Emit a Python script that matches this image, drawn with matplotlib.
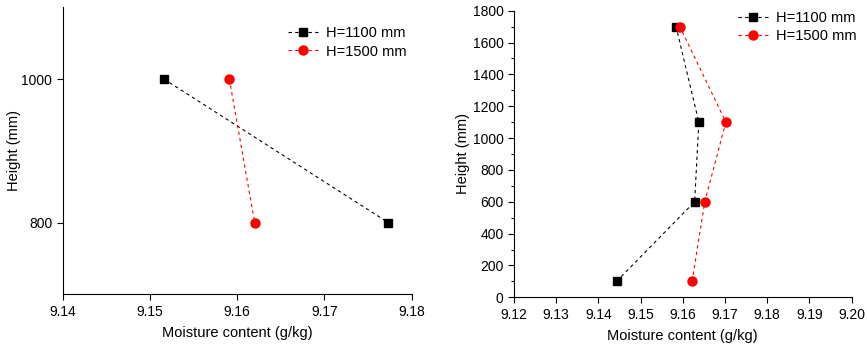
import matplotlib
matplotlib.use('Agg')
import matplotlib.pyplot as plt
from matplotlib.ticker import MultipleLocator, FormatStrFormatter

plt.rcParams['font.family'] = ['Liberation Sans', 'DejaVu Sans']
plt.rcParams['font.size'] = 10.5

# Left panel data
left_h1100_x = [9.1516, 9.1773]
left_h1100_y = [1000, 800]
left_h1500_x = [9.1591, 9.1620]
left_h1500_y = [1000, 800]

# Right panel data
right_h1100_x = [9.1443, 9.1628, 9.1638, 9.1584]
right_h1100_y = [100, 600, 1100, 1700]
right_h1500_x = [9.1622, 9.1652, 9.1702, 9.1593]
right_h1500_y = [100, 600, 1100, 1700]

labels = ['H=1100 mm', 'H=1500 mm']

fig = plt.figure(figsize=(8.67, 3.46), dpi=100)
ax1 = fig.add_axes([0.0723, 0.1494, 0.4026, 0.8296])
ax2 = fig.add_axes([0.5928, 0.1408, 0.3895, 0.8283])


def draw(ax, x1, y1, x2, y2, anchor, ypad):
    ax.plot(x1, y1, ls=(0, (3, 3)), lw=0.8, color='black', marker='s',
            markersize=5.5, label=labels[0])
    ax.plot(x2, y2, ls=(0, (3, 3)), lw=0.8, color='red', marker='o',
            markersize=6.5, label=labels[1])
    for s in ['top', 'right']:
        ax.spines[s].set_visible(False)
    ax.tick_params(direction='out', length=4, width=0.8, labelsize=10)
    ax.tick_params(which='minor', direction='out', length=2, width=0.8)
    ax.set_xlabel('Moisture content (g/kg)', labelpad=5)
    ax.set_ylabel('Height (mm)', labelpad=ypad)
    ax.xaxis.set_major_locator(MultipleLocator(0.01))
    ax.xaxis.set_major_formatter(FormatStrFormatter('%.2f'))
    ax.legend(loc='upper right', frameon=False, handlelength=2.05,
              handletextpad=0.53, labelspacing=0.32, fontsize=10.5,
              borderpad=0, borderaxespad=0, bbox_to_anchor=anchor)


draw(ax1, left_h1100_x, left_h1100_y, left_h1500_x, left_h1500_y, (0.984, 0.935), 0)
ax1.set_xlim(9.14, 9.18)
ax1.set_ylim(700, 1100)
ax1.set_yticks([800, 1000])

draw(ax2, right_h1100_x, right_h1100_y, right_h1500_x, right_h1500_y, (1.015, 1.0), 2)
ax2.set_xlim(9.12, 9.20)
ax2.set_ylim(0, 1800)
ax2.yaxis.set_major_locator(MultipleLocator(200))
ax2.yaxis.set_minor_locator(MultipleLocator(100))

fig.savefig('out.png', dpi=100)
